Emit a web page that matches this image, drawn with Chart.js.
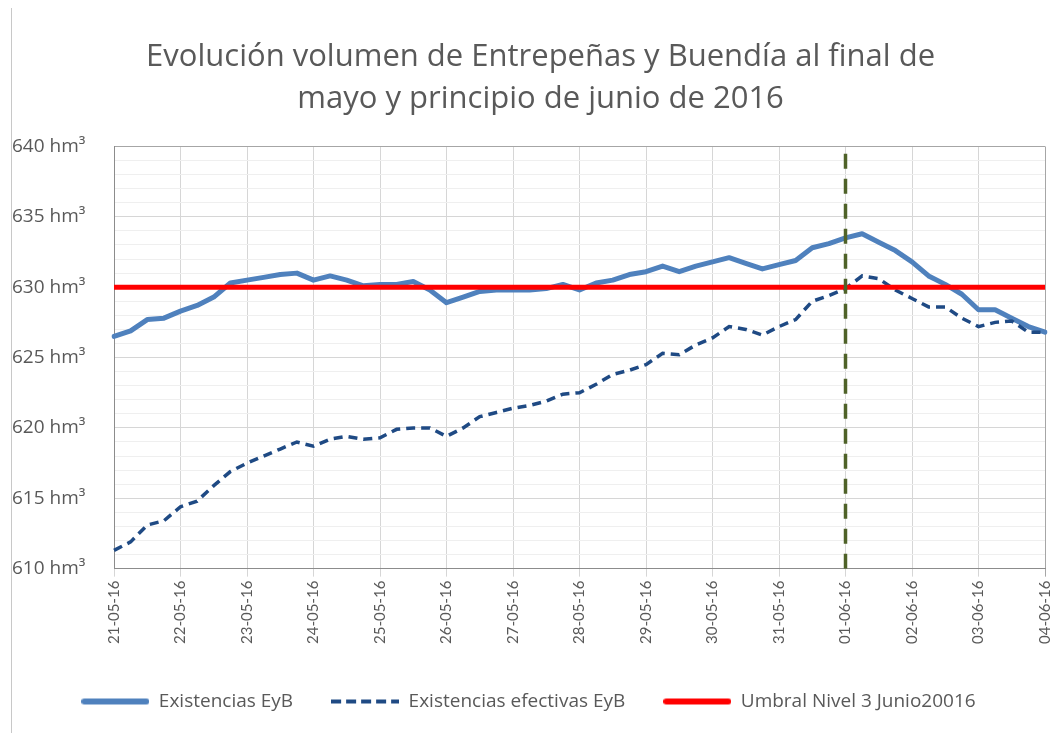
<!DOCTYPE html>
<html>
<head>
<meta charset="utf-8">
<script src="https://cdn.jsdelivr.net/npm/chart.js@4.4.1/dist/chart.umd.min.js"></script>
<style>
  html, body { margin: 0; padding: 0; background: #fff; }
  #wrap { position: relative; width: 1058px; height: 733px; }
  #marco { position: absolute; left: 11px; top: 8px; bottom: 0; border-left: 1px solid #c8c8c8; }
</style>
</head>
<body>
<div id="wrap">
  <div id="marco"></div>
  <canvas id="grafico"></canvas>
</div>
<script>
// fechas (una etiqueta por día) y lecturas cada 6 horas
const dias = ['21-05-16', '22-05-16', '23-05-16', '24-05-16', '25-05-16', '26-05-16', '27-05-16',
  '28-05-16', '29-05-16', '30-05-16', '31-05-16', '01-06-16', '02-06-16', '03-06-16', '04-06-16'];
const horas = ['00h', '06h', '12h', '18h'];

// hm³
const existencias = [
  626.5, 626.9, 627.7, 627.8,
  628.3, 628.7, 629.3, 630.3,
  630.5, 630.7, 630.9, 631.0,
  630.5, 630.8, 630.5, 630.1,
  630.2, 630.2, 630.4, 629.8,
  628.9, 629.3, 629.7, 629.8,
  629.8, 629.8, 629.9, 630.2,
  629.8, 630.3, 630.5, 630.9,
  631.1, 631.5, 631.1, 631.5,
  631.8, 632.1, 631.7, 631.3,
  631.6, 631.9, 632.8, 633.1,
  633.5, 633.8, 633.2, 632.6,
  631.8, 630.8, 630.2, 629.5,
  628.4, 628.4, 627.8, 627.2,
  626.8
];
const efectivas = [
  611.3, 611.9, 613.1, 613.4,
  614.4, 614.8, 615.9, 616.9,
  617.5, 618.0, 618.5, 619.0,
  618.7, 619.2, 619.4, 619.2,
  619.3, 619.9, 620.0, 620.0,
  619.4, 620.0, 620.8, 621.1,
  621.4, 621.6, 621.9, 622.4,
  622.5, 623.1, 623.8, 624.1,
  624.5, 625.3, 625.2, 625.9,
  626.4, 627.2, 627.0, 626.6,
  627.2, 627.7, 629.0, 629.4,
  629.9, 630.8, 630.6, 629.8,
  629.2, 628.6, 628.6, 627.8,
  627.2, 627.5, 627.6, 626.8,
  626.8
];
const umbral = 630;
const fechaMarca = '01-06-16';
const yMin = 610;
const yMax = 640;

const etiquetas = [];
dias.forEach((d, i) => {
  if (i < dias.length - 1) {
    horas.forEach(h => etiquetas.push(d + ' ' + h));
  } else {
    etiquetas.push(d + ' ' + horas[0]);
  }
});

const gris = '#595959';

// muestra de línea para la leyenda (trazo con o sin guiones)
function muestra(color, grosor, guiones) {
  const c = document.createElement('canvas');
  c.width = 68;
  c.height = 8;
  const g = c.getContext('2d');
  g.strokeStyle = color;
  g.lineWidth = grosor;
  g.lineCap = guiones.length ? 'butt' : 'round';
  g.setLineDash(guiones);
  g.beginPath();
  g.moveTo(guiones.length ? 0 : 3, 4);
  g.lineTo(guiones.length ? 68 : 65, 4);
  g.stroke();
  return c;
}

const ctx = document.getElementById('grafico').getContext('2d');
new Chart(ctx, {
  type: 'line',
  data: {
    labels: etiquetas,
    datasets: [
      {
        label: 'marca',
        data: [{ x: fechaMarca + ' 00h', y: yMin }, { x: fechaMarca + ' 00h', y: yMax }],
        borderColor: '#4f6228',
        borderWidth: 3.5,
        borderDash: [15, 10],
        pointRadius: 0,
      },
      {
        label: 'Umbral Nivel 3 Junio20016',
        data: [{ x: etiquetas[0], y: umbral }, { x: etiquetas[etiquetas.length - 1], y: umbral }],
        borderColor: '#ff0000',
        backgroundColor: '#ff0000',
        borderWidth: 5,
        pointRadius: 0,
        pointStyle: muestra('#ff0000', 6, []),
      },
      {
        label: 'Existencias efectivas EyB',
        data: efectivas,
        borderColor: '#1f4a84',
        backgroundColor: '#1f4a84',
        borderWidth: 3.5,
        borderDash: [9, 6],
        pointRadius: 0,
        pointStyle: muestra('#1f4a84', 4, [10, 5]),
      },
      {
        label: 'Existencias EyB',
        data: existencias,
        borderColor: '#4f81bd',
        backgroundColor: '#4f81bd',
        borderWidth: 5,
        borderCapStyle: 'round',
        borderJoinStyle: 'round',
        pointRadius: 0,
        pointStyle: muestra('#4f81bd', 6, []),
      },
    ],
  },
  options: {
    responsive: true,
    maintainAspectRatio: false,
    animation: false,
    layout: { padding: { left: 12, right: 13, bottom: 12 } },
    plugins: {
      tooltip: { enabled: false },
      title: {
        display: true,
        // espacios iniciales: el título original está algo desplazado a la derecha
        text: ['   Evolución volumen de Entrepeñas y Buendía al final de', '   mayo y principio de junio de 2016'],
        color: gris,
        font: { family: 'Open Sans', size: 31, weight: 'normal', lineHeight: 1.33 },
        padding: { top: 37, bottom: 27 },
      },
      legend: {
        position: 'bottom',
        labels: {
          color: gris,
          font: { family: 'Open Sans', size: 19 },
          usePointStyle: true,
          pointStyleWidth: 68,
          padding: 38,
          filter: (item) => item.text !== 'marca',
          sort: (a, b) => b.datasetIndex - a.datasetIndex,
        },
      },
    },
    scales: {
      x: {
        offset: false,
        grid: {
          color: (c) => c.index === etiquetas.length - 1 ? '#a6a6a6' : (c.index % 4 === 0 ? '#d6d6d6' : 'rgba(0,0,0,0)'),
          tickLength: 8,
        },
        border: { color: '#8c8c8c' },
        ticks: {
          autoSkip: false,
          minRotation: 90,
          maxRotation: 90,
          padding: 4,
          color: gris,
          font: { family: 'Lato', size: 15 },
          callback: (v, i) => (i % 4 === 0 ? dias[i / 4] : ''),
        },
        afterFit: (scale) => {
          scale.height = scale.height + 6;
          scale.paddingRight = 0;
          scale.paddingLeft = 0;
        },
      },
      y: {
        min: yMin,
        max: yMax,
        grid: {
          color: (c) => {
            const v = c.tick.value;
            if (v === yMax) return '#a6a6a6';
            return v % 5 === 0 ? '#d6d6d6' : '#efefef';
          },
          drawTicks: false,
        },
        border: { color: '#8c8c8c' },
        ticks: {
          stepSize: 1,
          autoSkip: false,
          crossAlign: 'far',
          color: gris,
          font: { family: 'Open Sans', size: 19 },
          callback: (v) => (v % 5 === 0 ? v + ' hm³' : ''),
        },
        afterFit: (scale) => { scale.width = 102; },
      },
    },
  },
});
</script>
</body>
</html>
